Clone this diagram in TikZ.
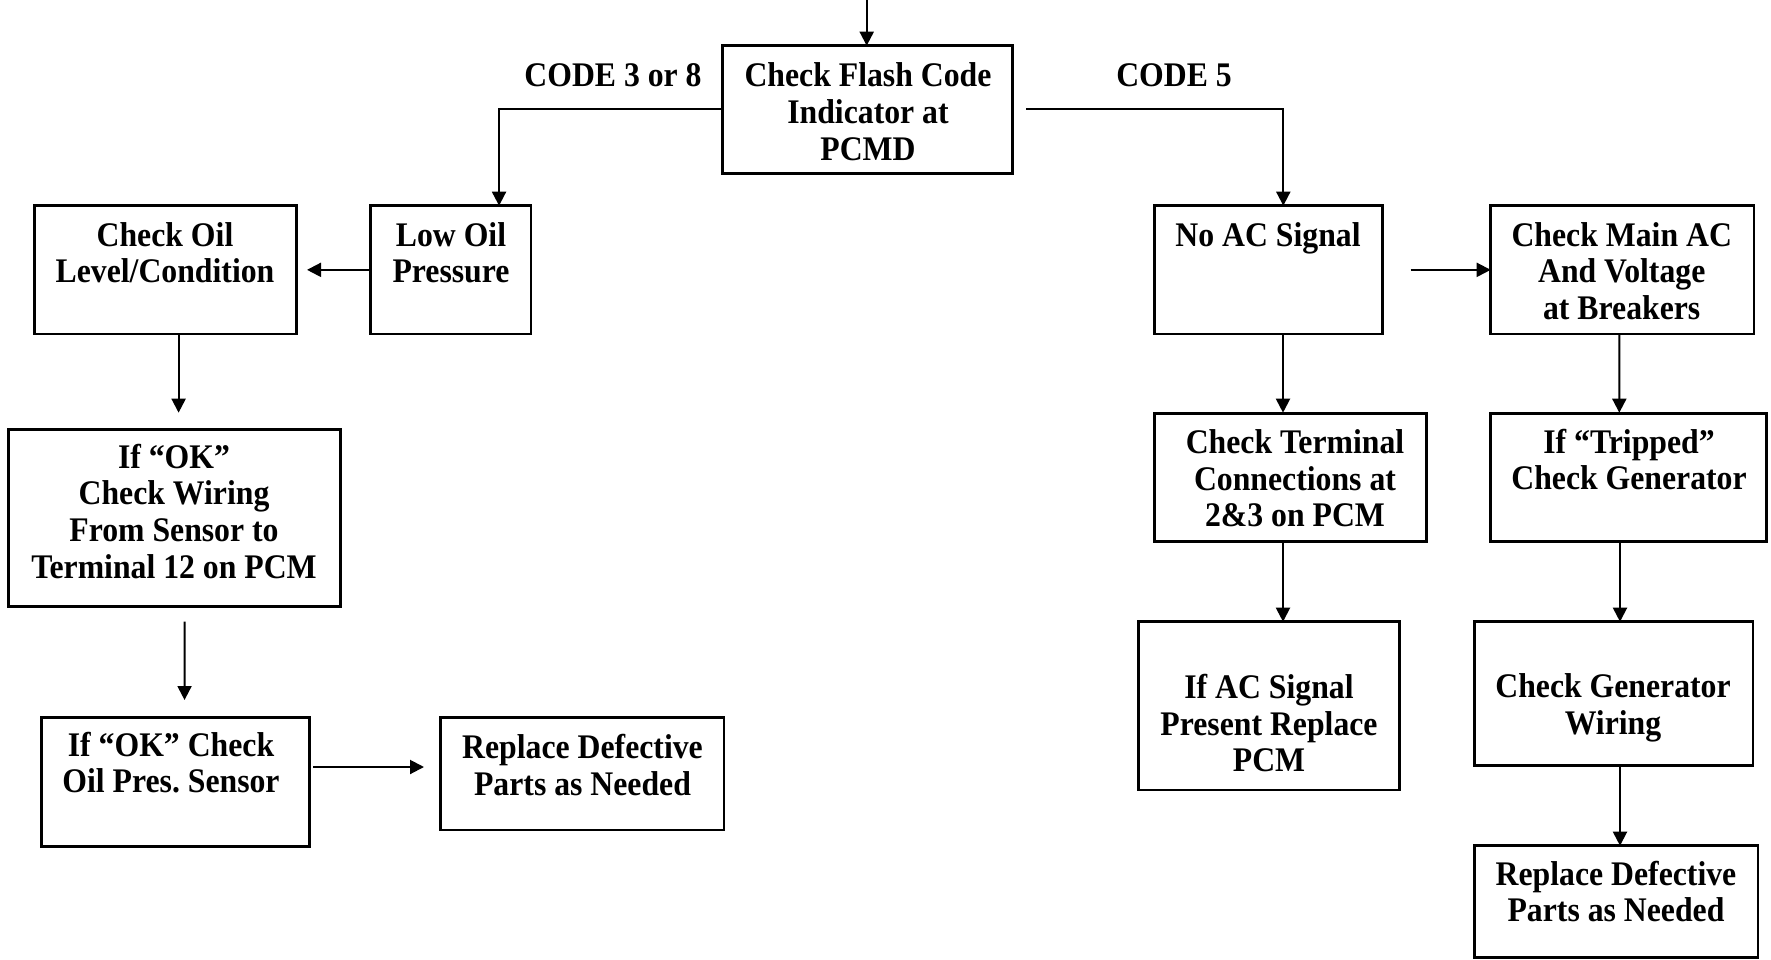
\documentclass[tikz,border=0pt]{standalone}
\usepackage{fontspec}
\setmainfont{Liberation Serif}[FakeStretch=0.92]
\usetikzlibrary{arrows.meta,calc}
\frenchspacing
\newcommand\bxtxt[1]{\parbox[t]{440pt}{\centering\bfseries\fontsize{34.5}{36.8}\selectfont\frenchspacing #1}}
\begin{document}
\begin{tikzpicture}[x=1pt,y=-1pt,
  box/.style={draw, line width=2.6pt, rectangle, inner sep=0pt, outer sep=0pt},
  txt/.style={inner sep=0pt, outer sep=0pt, anchor=base},
  arr/.style={line width=2pt, -{Triangle[length=14pt,width=14pt]}}]
\fill[white] (0,0) rectangle (1771,960);
\useasboundingbox (0,0) rectangle (1771,960);

% boxes
\node[box, minimum width=290pt,   minimum height=127.6pt] (flash)  at (867.7,109.5) {};
\node[box, minimum width=261.8pt, minimum height=128.3pt] (chkoil) at (165.5,269.85) {};
\node[box, minimum width=160.3pt, minimum height=128.3pt] (lowoil) at (450.85,269.85) {};
\node[box, minimum width=332.2pt, minimum height=177pt]   (wiring) at (174.3,517.8) {};
\node[box, minimum width=268.1pt, minimum height=129.4pt] (okchk)  at (175.25,782) {};
\node[box, minimum width=283.3pt, minimum height=112.3pt] (replL)  at (582.35,773.85) {};
\node[box, minimum width=228pt,   minimum height=128.3pt] (noac)   at (1268.7,269.85) {};
\node[box, minimum width=263.3pt, minimum height=128.3pt] (mainac) at (1622.35,269.85) {};
\node[box, minimum width=272pt,   minimum height=128pt]   (term)   at (1290.7,477.7) {};
\node[box, minimum width=276pt,   minimum height=128pt]   (trip)   at (1628.7,477.7) {};
\node[box, minimum width=260.6pt, minimum height=168.3pt] (ifac)   at (1269,705.85) {};
\node[box, minimum width=278.3pt, minimum height=144pt]   (genw)   at (1613.85,693.7) {};
\node[box, minimum width=283.3pt, minimum height=112pt]   (replR)  at (1616.35,901.7) {};

% texts
\node[txt] (tflash)  at (868,87)     {\bxtxt{Check Flash Code\\Indicator at\\PCMD}};
\node[txt] (tcode38) at (613,87)     {\bxtxt{CODE 3 or 8}};
\node[txt] (tcode5)  at (1174,86.7)  {\bxtxt{CODE 5}};
\node[txt] (tchkoil) at (165,246)    {\bxtxt{Check Oil\\Level/Condition}};
\node[txt] (tlowoil) at (451,246)    {\bxtxt{Low Oil\\Pressure}};
\node[txt] (twiring) at (174,468)    {\bxtxt{If “OK”\\Check Wiring\\From Sensor to\\Terminal 12 on PCM}};
\node[txt] (tokchk)  at (171,756)    {\bxtxt{If “OK” Check\\Oil Pres. Sensor}};
\node[txt] (treplL)  at (582.5,758.3){\bxtxt{Replace Defective\\Parts as Needed}};
\node[txt] (tnoac)   at (1268,246.7) {\bxtxt{No AC Signal}};
\node[txt] (tmainac) at (1621.7,246) {\bxtxt{Check Main AC\\And Voltage\\at Breakers}};
\node[txt] (tterm)   at (1295,453.3) {\bxtxt{Check Terminal\\Connections at\\2\&3 on PCM}};
\node[txt] (ttrip)   at (1629,453)   {\bxtxt{If “Tripped”\\Check Generator}};
\node[txt] (tifac)   at (1269,698.3) {\bxtxt{If AC Signal\\Present Replace\\PCM}};
\node[txt] (tgenw)   at (1613,697.3) {\bxtxt{Check Generator\\Wiring}};
\node[txt] (treplR)  at (1616,885)   {\bxtxt{Replace Defective\\Parts as Needed}};

% connectors
\coordinate (top) at (866.7,0);
\draw[arr] (top) -- (top |- flash.north);
\draw[arr] (flash.west) -| ($(lowoil.north)+(48.2,0)$);
\draw[arr] ($(flash.east)+(13.3,0)$) -| ($(noac.north)+(14.6,0)$);
\draw[arr] (lowoil.west) -- ($(chkoil.east)+(10.6,0)$);
\draw[arr] ($(chkoil.south)+(13.1,0)$) -- ($(wiring.north)+(4.3,-16.6)$);
\draw[arr] ($(wiring.south)+(10.2,15.4)$) -- ($(okchk.north)+(9.3,-17.3)$);
\draw[arr] ($(okchk.east)+(3.7,-15)$) -- ($(replL.west)+(-16.7,-6.85)$);
\draw[arr] ($(noac.east)+(28,0)$) -- (mainac.west);
\draw[arr] ($(noac.south)+(14.3,0)$) -- ($(term.north)+(-7.7,-1)$);
\draw[arr] ($(mainac.south)+(-3,0)$) -- ($(trip.north)+(-9.4,-1)$);
\draw[arr] ($(term.south)+(-7.7,0)$) -- ($(ifac.north)+(14,0)$);
\draw[arr] ($(trip.south)+(-8.7,0)$) -- ($(genw.north)+(6.15,0)$);
\draw[arr] ($(genw.south)+(6.15,0)$) -- ($(replR.north)+(3.65,0)$);
\end{tikzpicture}
\end{document}
